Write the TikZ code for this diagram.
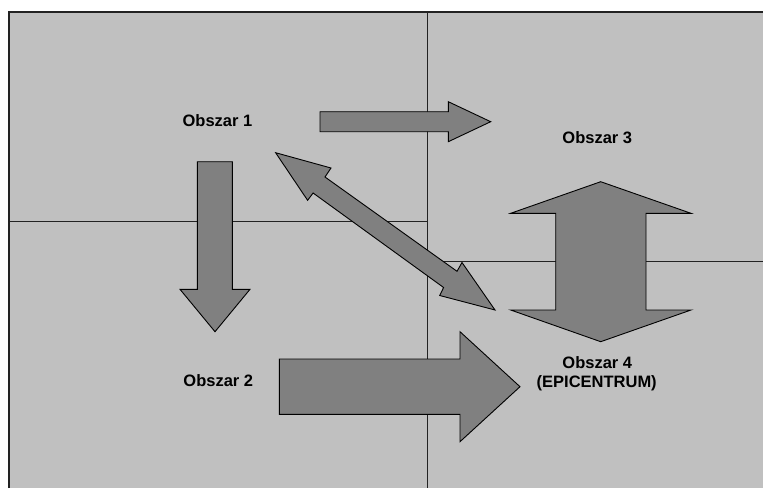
\documentclass[tikz,border=0pt]{standalone}
\usepackage{fontspec}
\setmainfont{Liberation Sans}
\definecolor{bggray}{HTML}{C0C0C0}
\definecolor{arrgray}{HTML}{808080}
\definecolor{linegray}{HTML}{222222}
\begin{document}
\begin{tikzpicture}[x=1pt,y=-1pt,
  gridline/.style={draw=linegray,line width=1.2pt},
  shapearrow/.style={fill=arrgray,draw=black,line width=0.9pt,line join=miter},
  label/.style={font=\fontsize{16.5}{19.5}\selectfont\bfseries,anchor=base,inner sep=0pt,align=center}]
\useasboundingbox (0,0) rectangle (763,488);
\fill[white] (0,0) rectangle (763,488);
\fill[bggray] (9,12) rectangle (763,488);
% grid lines
\draw[gridline] (9,488) -- (9,12) -- (763,12);
\draw[gridline] (427.5,12) -- (427.5,488);
\draw[gridline] (9,221.7) -- (427.5,221.7);
\draw[gridline] (427.5,261.7) -- (763,261.7);
% top right arrow
\draw[shapearrow] (320,111.7) -- (448.3,111.7) -- (448.3,101.7) -- (490.7,121.7) -- (448.3,141.7) -- (448.3,131.7) -- (320,131.7) -- cycle;
% down arrow
\draw[shapearrow] (197.3,161.7) -- (232.3,161.7) -- (232.3,289.3) -- (250,289.3) -- (215,331.7) -- (180,289.3) -- (197.3,289.3) -- cycle;
% diagonal double arrow
\draw[shapearrow] (275.6,152.7) -- (331,168) -- (325,177) -- (457,271.3) -- (462,262.5) -- (495,310) -- (439.7,295.5) -- (443.6,287.5) -- (313.1,193) -- (307.6,200.3) -- cycle;
% vertical double arrow
\draw[shapearrow] (600.7,181.7) -- (691,213.3) -- (646,213.3) -- (646,310) -- (691,310) -- (600.7,341.7) -- (510.7,310) -- (555.7,310) -- (555.7,213.3) -- (510.7,213.3) -- cycle;
% big right arrow
\draw[shapearrow] (279.3,359) -- (460,359) -- (460,331.7) -- (520,386.7) -- (460,441.7) -- (460,414.3) -- (279.3,414.3) -- cycle;
% labels
\node[label] (o1) at (217.5,126.7) {Obszar 1};
\node[label] (o3) at (597.3,143.3) {Obszar 3};
\node[label] (o2) at (218.3,386.7) {Obszar 2};
\node[label] (o4) at (597.3,368.3) {Obszar 4};
\node[label] (o4b) at (596.7,387.5) {(EPICENTRUM)};
\end{tikzpicture}
\end{document}
